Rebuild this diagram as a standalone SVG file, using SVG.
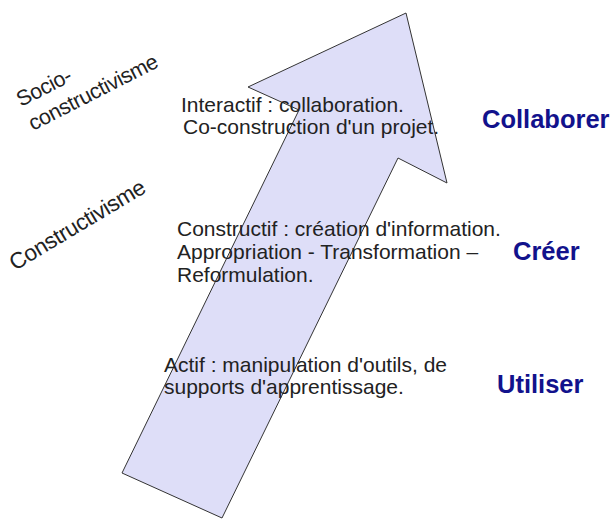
<svg xmlns="http://www.w3.org/2000/svg" width="614" height="520" viewBox="0 0 614 520">
  <style>
    .body { font-family: "Liberation Sans", Arial, sans-serif; font-size: 21px; fill: #222; }
    .verb { font-family: "Liberation Sans", Arial, sans-serif; font-size: 25.5px; font-weight: bold; fill: #12128c; }
    .theory { font-family: "Liberation Sans", Arial, sans-serif; font-size: 21.5px; fill: #222; letter-spacing: -0.4px; }
    .big-arrow { fill: #dedef8; stroke: #333; stroke-width: 1; stroke-linejoin: miter; }
  </style>
  <rect width="614" height="520" fill="#fff"/>

  <!-- rising arrow: progression from using to collaborating -->
  <g id="arrow">
    <polygon class="big-arrow" points="406,13 447,183 398,158 222,518 122,473 299,110 248,87"/>
  </g>

  <!-- learning theories, tilted along the arrow -->
  <g id="theory-socio">
    <text class="theory" transform="translate(21,107) rotate(-27)">Socio-</text>
    <text class="theory" transform="translate(33,131) rotate(-27)">constructivisme</text>
  </g>
  <g id="theory-constructivisme">
    <text class="theory" transform="translate(15,271) rotate(-31)" style="font-size:22.5px">Constructivisme</text>
  </g>

  <!-- activity levels -->
  <g id="level-interactif">
    <text class="body" x="181" y="112">Interactif : collaboration.</text>
    <text class="body" x="183" y="134">Co-construction d'un projet.</text>
  </g>
  <g id="level-constructif">
    <text class="body" x="177" y="236">Constructif : création d'information.</text>
    <text class="body" x="177" y="259">Appropriation - Transformation –</text>
    <text class="body" x="177" y="282">Reformulation.</text>
  </g>
  <g id="level-actif">
    <text class="body" x="164" y="372">Actif : manipulation d'outils, de</text>
    <text class="body" x="164" y="394">supports d'apprentissage.</text>
  </g>

  <!-- verbs -->
  <g id="verb-collaborer">
    <text class="verb" x="482" y="128">Collaborer</text>
  </g>
  <g id="verb-creer">
    <text class="verb" x="513" y="260">Créer</text>
  </g>
  <g id="verb-utiliser">
    <text class="verb" x="497" y="393">Utiliser</text>
  </g>
</svg>
